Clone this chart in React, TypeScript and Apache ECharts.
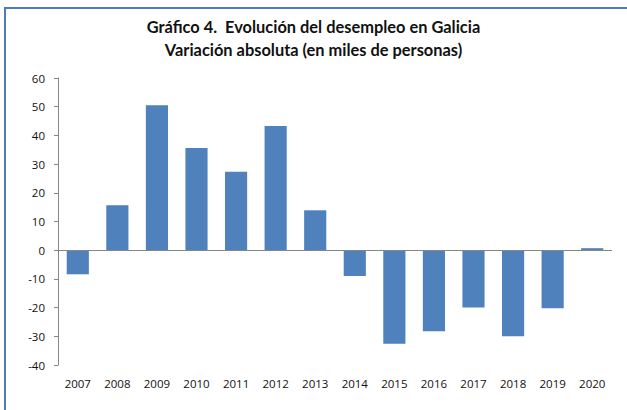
import React, { useEffect, useRef } from "react";
import * as echarts from "echarts";

const titleLines = [
  "Gráfico 4.  Evolución del desempleo en Galicia",
  "Variación absoluta (en miles de personas)",
];
const years = ["2007", "2008", "2009", "2010", "2011", "2012", "2013", "2014", "2015", "2016", "2017", "2018", "2019", "2020"];
const variation = [-8.4, 15.7, 50.5, 35.6, 27.3, 43.3, 13.9, -9.0, -32.6, -28.2, -20.0, -30.0, -20.2, 0.7];
const yMin = -40;
const yMax = 60;
const yStep = 10;

export default function App() {
  const ref = useRef<HTMLDivElement>(null);
  useEffect(() => {
    if (!ref.current) return;
    const chart = echarts.init(ref.current, null, { renderer: "svg" });
    const font = "'Open Sans', sans-serif";
    chart.setOption({
      animation: false,
      backgroundColor: "#ffffff",
      title: {
        text: titleLines.join("\n"),
        left: "center",
        top: 10,
        textStyle: {
          fontFamily: "Lato, sans-serif",
          fontWeight: "bold",
          fontSize: 16.4,
          lineHeight: 23,
          color: "#111111",
        },
      },
      graphic: [
        { type: "line", shape: { x1: 5, y1: 8, x2: 5, y2: 410 }, style: { stroke: "#4a7ebb", lineWidth: 2 } },
        { type: "line", shape: { x1: 4, y1: 8, x2: 627, y2: 8 }, style: { stroke: "#4a7ebb", lineWidth: 2 } },
      ],
      grid: { left: 58, right: 15, top: 78, bottom: 45, containLabel: false },
      xAxis: {
        type: "category",
        data: years,
        axisLine: { show: false, onZero: false },
        axisTick: { show: false },
        axisLabel: { fontFamily: font, fontSize: 11.5, color: "#111111", margin: 12 },
      },
      yAxis: {
        type: "value",
        min: yMin,
        max: yMax,
        interval: yStep,
        splitLine: { show: false },
        axisLine: { show: true, lineStyle: { color: "#868686", width: 1 } },
        axisTick: { show: true, length: 4, lineStyle: { color: "#868686" } },
        axisLabel: { fontFamily: font, fontSize: 11.5, color: "#111111", margin: 13 },
      },
      series: [
        {
          type: "bar",
          data: variation,
          barCategoryGap: "44%",
          itemStyle: { color: "#4f81bd" },
          markLine: {
            silent: true,
            symbol: "none",
            label: { show: false },
            lineStyle: { color: "#868686", width: 1, type: "solid" },
            data: [{ yAxis: 0 }],
          },
        },
      ],
    });
    return () => chart.dispose();
  }, []);
  return <div ref={ref} style={{ width: 627, height: 410, position: "absolute", left: 0, top: 0 }} />;
}
